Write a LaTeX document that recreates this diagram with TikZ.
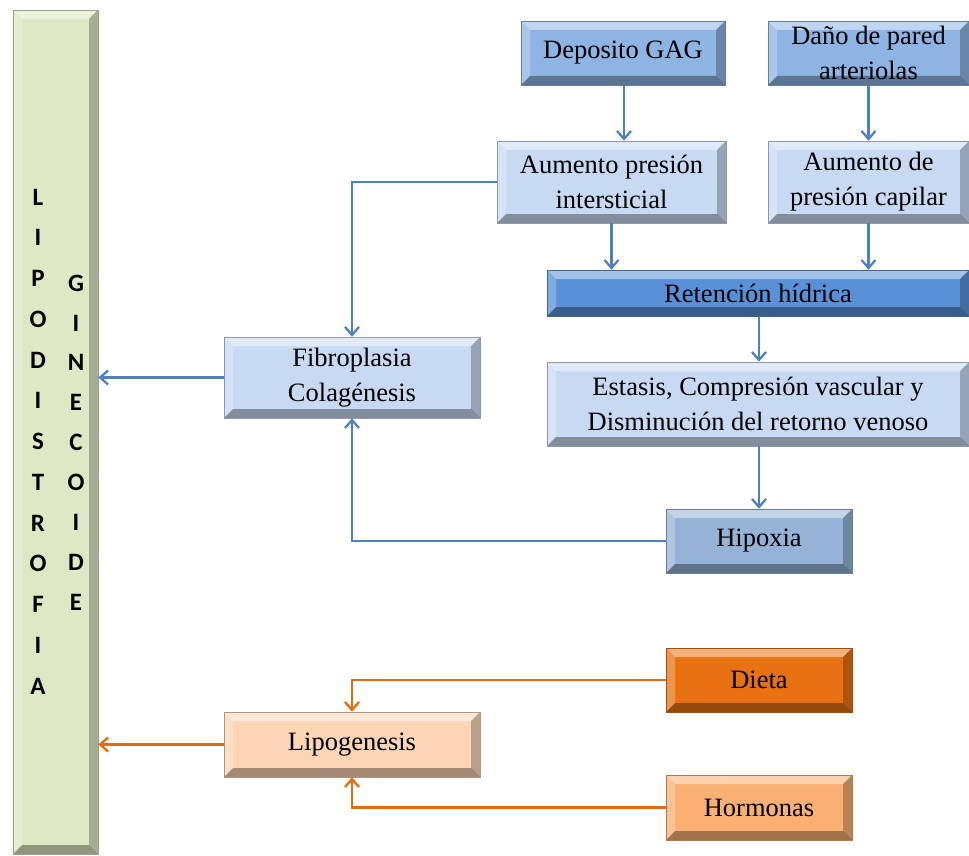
\documentclass[tikz,border=0pt]{standalone}
\usepackage{fontspec}
\setmainfont{Liberation Serif}
\newfontfamily\barfont{Carlito}
\usetikzlibrary{arrows.meta, positioning}

\definecolor{gagblue}{RGB}{141,180,226}
\definecolor{paleblue}{RGB}{200,218,243}
\definecolor{retblue}{RGB}{88,145,215}
\definecolor{hipblue}{RGB}{149,179,215}
\definecolor{dietaorange}{RGB}{232,113,18}
\definecolor{hormorange}{RGB}{249,176,114}
\definecolor{lipoorange}{RGB}{252,213,181}
\definecolor{bargreen}{RGB}{221,233,196}
\definecolor{linkblue}{RGB}{79,129,189}
\definecolor{linkorange}{RGB}{228,108,10}

\begin{document}
\begin{tikzpicture}[x=1pt, y=-1pt,
  bevel/.style={path picture={
    \fill[white, opacity=0.45] (path picture bounding box.north west) -- (path picture bounding box.north east)
      -- ([shift={(-9,9)}]path picture bounding box.north east) -- ([shift={(9,9)}]path picture bounding box.north west) -- cycle;
    \fill[white, opacity=0.25] (path picture bounding box.north west) -- ([shift={(9,9)}]path picture bounding box.north west)
      -- ([shift={(9,-9)}]path picture bounding box.south west) -- (path picture bounding box.south west) -- cycle;
    \fill[black, opacity=0.25] (path picture bounding box.north east) -- (path picture bounding box.south east)
      -- ([shift={(-9,-9)}]path picture bounding box.south east) -- ([shift={(-9,9)}]path picture bounding box.north east) -- cycle;
    \fill[black, opacity=0.35] (path picture bounding box.south west) -- (path picture bounding box.south east)
      -- ([shift={(-9,-9)}]path picture bounding box.south east) -- ([shift={(9,-9)}]path picture bounding box.south west) -- cycle;
  }},
  cbox/.style={rectangle, draw=#1!70!black, fill=#1, line width=0.6pt, bevel, align=center, inner sep=0pt,
    font=\fontsize{26.5}{35}\selectfont},
  letter/.style={font=\barfont\bfseries\fontsize{25}{25}\selectfont, inner sep=0pt},
  barr/.style={-{Straight Barb[length=8pt, width=14pt]}, line width=2.3pt, linkblue},
  oarr/.style={-{Straight Barb[length=8pt, width=14pt]}, line width=2.3pt, linkorange}
]
  \useasboundingbox (0,0) rectangle (969,856);

  % left bar
  \node[cbox=bargreen, minimum width=85, minimum height=844] (bar) at (55.5,432) {};
  \foreach \c [count=\i] in {L,I,P,O,D,I,S,T,R,O,F,I,A}
    \node[letter] (lip\i) at (38, 197+40.75*\i-40.75) {\c};
  \foreach \c [count=\i] in {G,I,N,E,C,O,I,D,E}
    \node[letter] (gin\i) at (76, 283+39.9*\i-39.9) {\c};

  % blue chain
  \node[cbox=gagblue, minimum width=204, minimum height=64] (dep) at (623,53) {Deposito GAG};
  \node[cbox=gagblue, minimum width=201, minimum height=64] (dano) at (868.5,53) {Daño de pared\\arteriolas};
  \node[cbox=paleblue, minimum width=229, minimum height=82] (aint) at (611.5,182) {Aumento presión\\intersticial};
  \node[cbox=paleblue, minimum width=201, minimum height=82] (acap) at (868.5,182) {Aumento de\\presión capilar};
  \node[cbox=retblue, minimum width=422, minimum height=46] (ret) at (758,293) {Retención hídrica};
  \node[cbox=paleblue, minimum width=422, minimum height=84] (est) at (758,404) {Estasis, Compresión vascular y\\Disminución del retorno venoso};
  \node[cbox=hipblue, minimum width=186, minimum height=64] (hip) at (759,541) {Hipoxia};
  \node[cbox=paleblue, minimum width=256, minimum height=81] (fib) at (352,377.5) {Fibroplasia\\Colagénesis};

  % orange chain
  \node[cbox=dietaorange, minimum width=186, minimum height=64] (dieta) at (759,680) {Dieta};
  \node[cbox=hormorange, minimum width=186, minimum height=65] (horm) at (759,807.5) {Hormonas};
  \node[cbox=lipoorange, minimum width=256, minimum height=65] (lipo) at (352,744.5) {Lipogenesis};

  \draw[barr] ([xshift=1]dep.south) -- ([xshift=1]dep.south |- aint.north);
  \draw[barr] (dano.south) -- (dano.south |- acap.north);
  \draw[barr] (aint.south) -- (aint.south |- ret.north);
  \draw[barr] (acap.south) -- (acap.south |- ret.north);
  \draw[barr] ([xshift=1]ret.south) -- ([xshift=1]ret.south |- est.north);
  \draw[barr] (est.south -| hip.north) -- (hip.north);
  \draw[barr] (hip.west) -| (fib.south);
  \draw[barr] (aint.west) -| (fib.north);
  \draw[barr] (fib.west) -- (fib.west -| bar.east);

  \draw[oarr] (dieta.west) -| (lipo.north);
  \draw[oarr] (horm.west) -| (lipo.south);
  \draw[oarr] (lipo.west) -- (lipo.west -| bar.east);
\end{tikzpicture}
\end{document}
